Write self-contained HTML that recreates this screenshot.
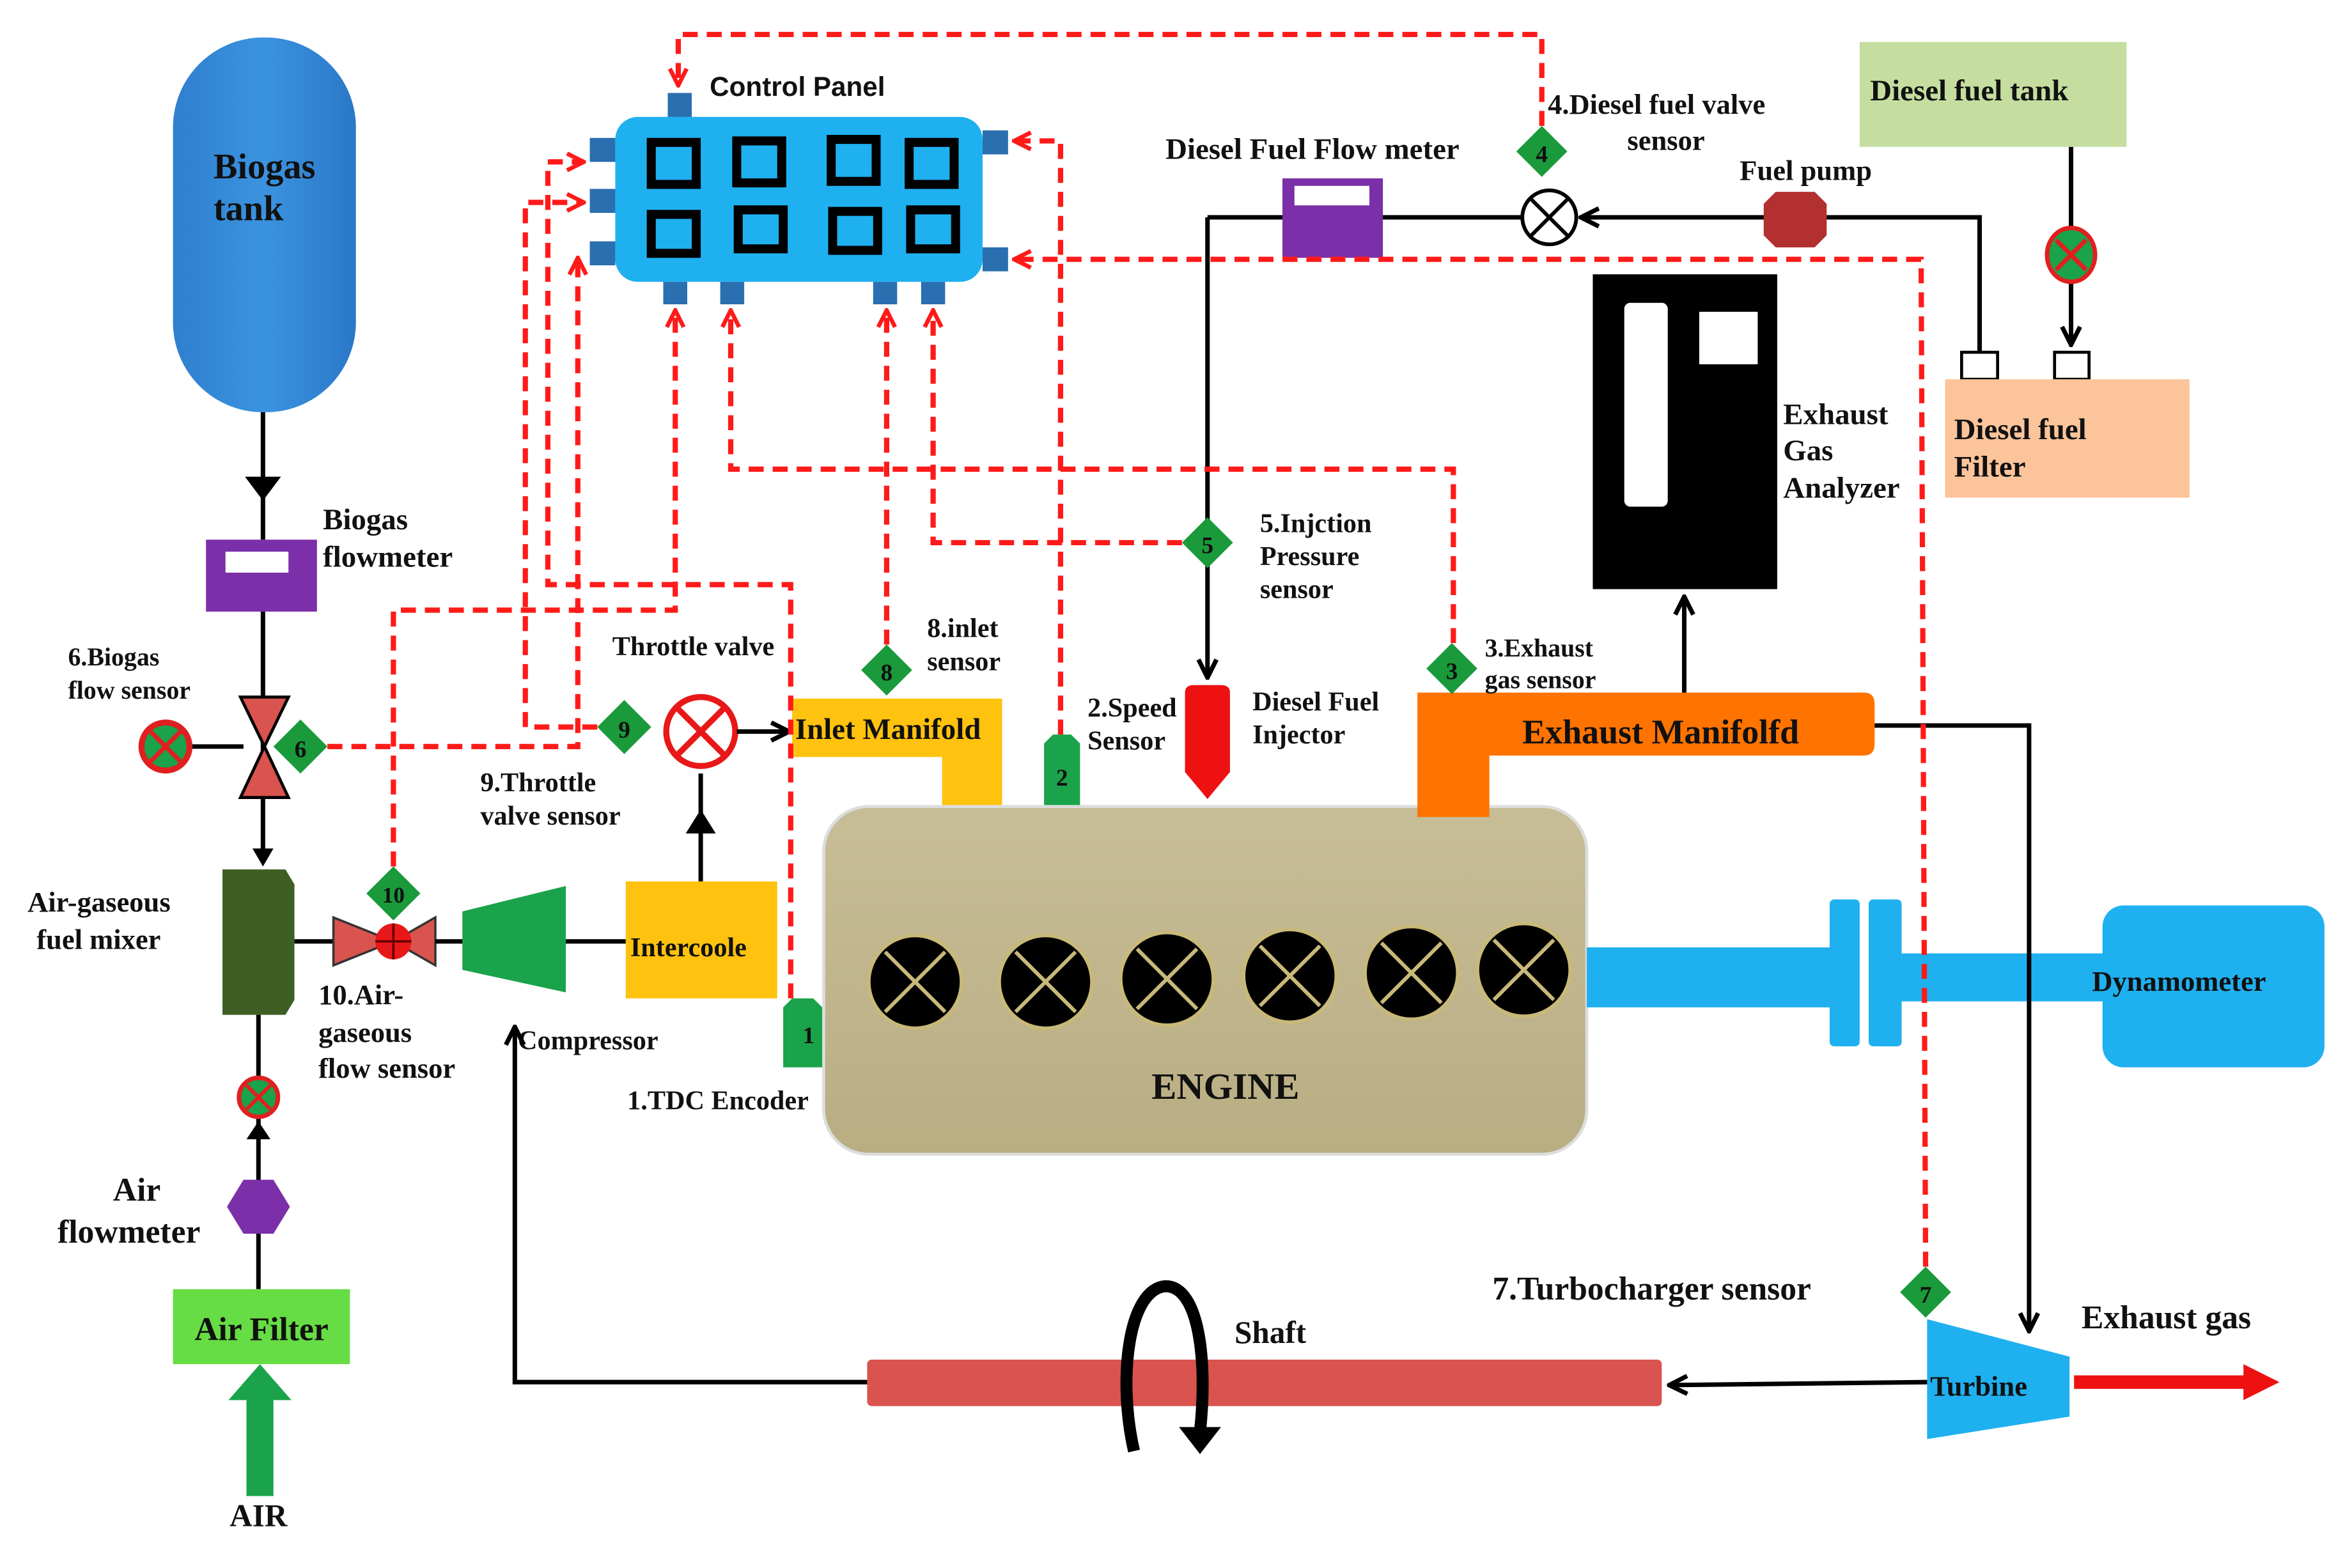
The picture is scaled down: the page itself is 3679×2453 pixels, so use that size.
<!DOCTYPE html>
<html><head><meta charset="utf-8"><style>
html,body{margin:0;padding:0;background:#fff}
svg{display:block}
text{font-family:"Liberation Serif",serif;font-weight:bold;fill:#111}
</style></head><body>
<svg width="3679" height="2453" viewBox="0 0 1568 1046" xmlns="http://www.w3.org/2000/svg">
<defs>
<linearGradient id="tank" x1="0" x2="1"><stop offset="0" stop-color="#2f7fcf"/><stop offset="0.5" stop-color="#3b93df"/><stop offset="1" stop-color="#2a78c8"/></linearGradient>
<linearGradient id="eng" x1="0" y1="0" x2="0" y2="1"><stop offset="0" stop-color="#c7bd97"/><stop offset="1" stop-color="#b9ad82"/></linearGradient>
<marker id="ra" viewBox="0 0 10 10" refX="9" refY="5" markerWidth="4" markerHeight="4" orient="auto" markerUnits="strokeWidth"><polyline points="1,1 9,5 1,9" fill="none" stroke="#ff1a1a" stroke-width="2"/></marker>
<marker id="ba" viewBox="0 0 10 10" refX="9" refY="5" markerWidth="5" markerHeight="5" orient="auto" markerUnits="strokeWidth"><polyline points="1,1 9,5 1,9" fill="none" stroke="#000" stroke-width="2"/></marker>
</defs>

<rect x="115" y="25" width="122" height="250" rx="60" fill="url(#tank)"/>
<text x="142" y="119" font-size="24" fill="#1a2a4a">Biogas</text>
<text x="142" y="147" font-size="24" fill="#1a2a4a">tank</text>
<line x1="175" y1="275" x2="175" y2="360" stroke="#000" stroke-width="3"/>
<polygon points="163,318 187,318 175,334" fill="#000"/>
<rect x="137" y="360" width="74" height="48" fill="#7b2fa8"/>
<rect x="150" y="368" width="42" height="14" fill="#fff"/>
<text x="215" y="353" font-size="20">Biogas</text>
<text x="215" y="378" font-size="20">flowmeter</text>
<line x1="175" y1="408" x2="175" y2="575" stroke="#000" stroke-width="3"/>
<polygon points="168,566 182,566 175,578" fill="#000"/>
<polygon points="160,465 192,465 176,498" fill="#d9534f" stroke="#000" stroke-width="2"/>
<polygon points="160,532 192,532 176,498" fill="#d9534f" stroke="#000" stroke-width="2"/>
<line x1="127" y1="498" x2="162" y2="498" stroke="#000" stroke-width="3"/>
<circle cx="110" cy="498" r="16" fill="#1aa34a" stroke="#e02020" stroke-width="4"/>
<path d="M100 488 L120 508 M120 488 L100 508" stroke="#e02020" stroke-width="3"/>
<polygon points="200,480 218,498 200,516 182,498" fill="#1a9a3a"/>
<text x="200" y="505" font-size="16" text-anchor="middle">6</text>
<text x="45" y="444" font-size="17">6.Biogas</text>
<text x="45" y="466" font-size="17">flow sensor</text>

<path d="M148 580 H190 L196 590 V667 L190 677 H148 Z" fill="#3e5f24"/>
<text x="18" y="608" font-size="19">Air-gaseous</text>
<text x="24" y="633" font-size="19">fuel mixer</text>
<line x1="196" y1="628" x2="222" y2="628" stroke="#000" stroke-width="3"/>
<polygon points="222,612 222,644 262,628" fill="#d9534f" stroke="#333" stroke-width="1.5"/>
<polygon points="290,612 290,644 262,628" fill="#d9534f" stroke="#333" stroke-width="1.5"/>
<circle cx="262" cy="628" r="12" fill="#e81818"/>
<path d="M250 628 H274 M262 616 V640" stroke="#600" stroke-width="1.5"/>
<polygon points="262,578 280,596 262,614 244,596" fill="#1a9a3a"/>
<text x="262" y="602" font-size="15" text-anchor="middle">10</text>
<text x="212" y="670" font-size="19">10.Air-</text>
<text x="212" y="695" font-size="19">gaseous</text>
<text x="212" y="719" font-size="19">flow sensor</text>
<line x1="290" y1="628" x2="310" y2="628" stroke="#000" stroke-width="3"/>
<polygon points="308,608 377,591 377,662 308,647" fill="#1aa34a"/>
<text x="345" y="700" font-size="18">Compressor</text>
<line x1="377" y1="628" x2="417" y2="628" stroke="#000" stroke-width="3"/>
<rect x="417" y="588" width="101" height="78" fill="#ffc20e"/>
<text x="420" y="638" font-size="18">Intercoole</text>
<line x1="467" y1="588" x2="467" y2="516" stroke="#000" stroke-width="3"/>
<polygon points="457,556 477,556 467,540" fill="#000"/>
<circle cx="467" cy="488" r="23" fill="#fff" stroke="#e81818" stroke-width="4"/>
<path d="M451 472 L483 504 M483 472 L451 504" stroke="#e81818" stroke-width="4"/>
<line x1="491" y1="488" x2="526" y2="488" stroke="#000" stroke-width="3" marker-end="url(#ba)"/>
<polygon points="416,467 434,485 416,503 398,485" fill="#1a9a3a"/>
<text x="416" y="492" font-size="16" text-anchor="middle">9</text>
<text x="408" y="437" font-size="18">Throttle valve</text>
<text x="320" y="528" font-size="18">9.Throttle</text>
<text x="320" y="550" font-size="18">valve sensor</text>

<path d="M528 466 H668 V545 H628 V505 H528 Z" fill="#ffc20e"/>
<text x="530" y="493" font-size="20">Inlet Manifold</text>
<polygon points="591,430 608,447 591,464 574,447" fill="#1a9a3a"/>
<text x="591" y="454" font-size="16" text-anchor="middle">8</text>
<text x="618" y="425" font-size="18">8.inlet</text>
<text x="618" y="447" font-size="18">sensor</text>
<path d="M696 496 L702 490 H714 L720 496 V538 H696 Z" fill="#1aa34a"/>
<text x="708" y="524" font-size="16" text-anchor="middle">2</text>
<text x="725" y="478" font-size="18">2.Speed</text>
<text x="725" y="500" font-size="18">Sensor</text>

<rect x="549" y="538" width="509" height="232" rx="30" fill="url(#eng)" stroke="#ddd" stroke-width="2"/>
<g stroke="#c8b97a" stroke-width="2.5">
<circle cx="610" cy="655" r="31" fill="#000"/><path d="M590 635 L630 675 M630 635 L590 675"/>
<circle cx="697" cy="655" r="31" fill="#000"/><path d="M677 635 L717 675 M717 635 L677 675"/>
<circle cx="778" cy="653" r="31" fill="#000"/><path d="M758 633 L798 673 M798 633 L758 673"/>
<circle cx="860" cy="651" r="31" fill="#000"/><path d="M840 631 L880 671 M880 631 L840 671"/>
<circle cx="941" cy="649" r="31" fill="#000"/><path d="M921 629 L961 669 M961 629 L921 669"/>
<circle cx="1016" cy="647" r="31" fill="#000"/><path d="M996 627 L1036 667 M1036 627 L996 667"/>
</g>
<text x="817" y="733" font-size="25" text-anchor="middle">ENGINE</text>
<path d="M522 672 L528 666 H542 L548 672 V712 H522 Z" fill="#1aa34a"/>
<text x="539" y="696" font-size="16" text-anchor="middle">1</text>
<text x="418" y="740" font-size="18">1.TDC Encoder</text>

<rect x="1058" y="632" width="170" height="40" fill="#1fb0f0"/>
<rect x="1220" y="600" width="20" height="98" rx="3" fill="#1fb0f0"/>
<rect x="1246" y="600" width="22" height="98" rx="3" fill="#1fb0f0"/>
<rect x="1268" y="636" width="140" height="32" fill="#1fb0f0"/>
<rect x="1402" y="604" width="148" height="108" rx="14" fill="#1fb0f0"/>
<text x="1395" y="661" font-size="19">Dynamometer</text>

<line x1="805" y1="145" x2="805" y2="452" stroke="#000" stroke-width="3" marker-end="url(#ba)"/>
<path d="M790 462 Q790 457 796 457 H814 Q820 457 820 462 V515 L805 533 L790 515 Z" fill="#ee1111"/>
<polygon points="805,345 822,362 805,379 788,362" fill="#1a9a3a"/>
<text x="805" y="369" font-size="16" text-anchor="middle">5</text>
<text x="840" y="355" font-size="18">5.Injction</text>
<text x="840" y="377" font-size="18">Pressure</text>
<text x="840" y="399" font-size="18">sensor</text>
<text x="835" y="474" font-size="18">Diesel Fuel</text>
<text x="835" y="496" font-size="18">Injector</text>
<line x1="805" y1="145" x2="1015" y2="145" stroke="#000" stroke-width="3"/>
<rect x="855" y="119" width="67" height="53" fill="#7b2fa8"/>
<rect x="863" y="124" width="50" height="13" fill="#fff"/>
<text x="777" y="106" font-size="20">Diesel Fuel Flow meter</text>
<circle cx="1033" cy="145" r="18" fill="#fff" stroke="#000" stroke-width="2.5"/>
<path d="M1020 132 L1046 158 M1046 132 L1020 158" stroke="#000" stroke-width="2.5"/>
<line x1="1178" y1="145" x2="1054" y2="145" stroke="#000" stroke-width="3" marker-end="url(#ba)"/>
<polygon points="1184,128 1210,128 1218,136 1218,157 1210,165 1184,165 1176,157 1176,136" fill="#b23030"/>
<text x="1160" y="120" font-size="19">Fuel pump</text>
<polyline points="1218,145 1320,145 1320,235" fill="none" stroke="#000" stroke-width="3"/>
<rect x="1308" y="235" width="24" height="18" fill="#fff" stroke="#000" stroke-width="2"/>
<rect x="1240" y="28" width="178" height="70" fill="#c5dea0"/>
<text x="1247" y="67" font-size="20">Diesel  fuel tank</text>
<line x1="1381" y1="98" x2="1381" y2="230" stroke="#000" stroke-width="3" marker-end="url(#ba)"/>
<ellipse cx="1381" cy="170" rx="16" ry="18" fill="#1aa34a" stroke="#e02020" stroke-width="3"/>
<path d="M1371 160 L1391 180 M1391 160 L1371 180" stroke="#e02020" stroke-width="3"/>
<rect x="1370" y="235" width="23" height="18" fill="#fff" stroke="#000" stroke-width="2"/>
<rect x="1297" y="253" width="163" height="79" fill="#fbc49a"/>
<text x="1303" y="293" font-size="20">Diesel  fuel</text>
<text x="1303" y="318" font-size="20">Filter</text>
<polygon points="1028,84 1045,101 1028,118 1011,101" fill="#1a9a3a"/>
<text x="1028" y="108" font-size="16" text-anchor="middle">4</text>
<text x="1032" y="76" font-size="19">4.Diesel fuel valve</text>
<text x="1085" y="100" font-size="19">sensor</text>

<rect x="1062" y="183" width="123" height="210" fill="#000"/>
<rect x="1083" y="202" width="29" height="136" rx="4" fill="#fff"/>
<rect x="1133" y="208" width="39" height="35" fill="#fff"/>
<text x="1189" y="283" font-size="20">Exhaust</text>
<text x="1189" y="307" font-size="20">Gas</text>
<text x="1189" y="332" font-size="20">Analyzer</text>
<line x1="1123" y1="462" x2="1123" y2="398" stroke="#000" stroke-width="3" marker-end="url(#ba)"/>

<path d="M945 462 H1243 Q1250 462 1250 470 V496 Q1250 504 1243 504 H993 V545 H945 Z" fill="#ff7300"/>
<text x="1015" y="496" font-size="23">Exhaust Manifolfd</text>
<polygon points="968,429 985,446 968,463 951,446" fill="#1a9a3a"/>
<text x="968" y="453" font-size="16" text-anchor="middle">3</text>
<text x="990" y="438" font-size="17">3.Exhaust</text>
<text x="990" y="459" font-size="17">gas sensor</text>
<polyline points="1250,484 1353,484 1353,888" fill="none" stroke="#000" stroke-width="3" marker-end="url(#ba)"/>

<polygon points="1285,880 1380,905 1380,945 1285,960" fill="#1fb0f0"/>
<text x="1287" y="931" font-size="19">Turbine</text>
<polygon points="1284,845 1301,862 1284,879 1267,862" fill="#1a9a3a"/>
<text x="1284" y="869" font-size="16" text-anchor="middle">7</text>
<text x="995" y="867" font-size="22">7.Turbocharger sensor</text>
<line x1="1383" y1="922" x2="1500" y2="922" stroke="#ee1111" stroke-width="9"/>
<polygon points="1496,910 1520,922 1496,934" fill="#ee1111"/>
<text x="1388" y="886" font-size="22">Exhaust gas</text>

<rect x="578" y="907" width="530" height="31" rx="3" fill="#d9534f"/>
<line x1="1285" y1="922" x2="1113" y2="924" stroke="#000" stroke-width="3" marker-end="url(#ba)"/>
<polyline points="578,922 343,922 343,685" fill="none" stroke="#000" stroke-width="3" marker-end="url(#ba)"/>
<path d="M756 968 C745 920 752 860 777 858 C800 858 805 910 800 955" fill="none" stroke="#000" stroke-width="8"/>
<polygon points="786,952 814,952 800,970" fill="#000"/>
<text x="823" y="896" font-size="21">Shaft</text>

<line x1="172" y1="860" x2="172" y2="745" stroke="#000" stroke-width="3"/>
<line x1="172" y1="720" x2="172" y2="677" stroke="#000" stroke-width="3"/>
<polygon points="164,760 180,760 172,748" fill="#000"/>
<circle cx="172" cy="732" r="13" fill="#1aa34a" stroke="#e02020" stroke-width="3"/>
<path d="M164 724 L180 740 M180 724 L164 740" stroke="#e02020" stroke-width="2.5"/>
<polygon points="162,787 182,787 193,805 182,823 162,823 151,805" fill="#7b2fa8"/>
<text x="75" y="801" font-size="22">Air</text>
<text x="38" y="829" font-size="22">flowmeter</text>
<rect x="115" y="860" width="118" height="50" fill="#66dd44"/>
<text x="174" y="894" font-size="22" text-anchor="middle">Air Filter</text>
<rect x="164" y="932" width="18" height="66" fill="#1aa34a"/>
<polygon points="152,934 194,934 173,910" fill="#1aa34a"/>
<text x="172" y="1018" font-size="21" text-anchor="middle">AIR</text>

<rect x="410" y="78" width="245" height="110" rx="15" fill="#1fb0f0"/>
<g fill="none" stroke="#000" stroke-width="6">
<rect x="434" y="95" width="30" height="28"/><rect x="491" y="94" width="30" height="28"/><rect x="554" y="93" width="30" height="28"/><rect x="606" y="95" width="30" height="28"/>
<rect x="434" y="143" width="30" height="26"/><rect x="492" y="140" width="30" height="26"/><rect x="555" y="141" width="30" height="26"/><rect x="607" y="140" width="30" height="26"/>
</g>
<g fill="#2a6fb0">
<rect x="445" y="62" width="16" height="16"/>
<rect x="393" y="92" width="17" height="16"/><rect x="393" y="126" width="17" height="16"/><rect x="393" y="161" width="17" height="16"/>
<rect x="655" y="87" width="17" height="16"/><rect x="655" y="165" width="17" height="16"/>
<rect x="442" y="188" width="16" height="15"/><rect x="480" y="188" width="16" height="15"/><rect x="582" y="188" width="16" height="15"/><rect x="614" y="188" width="16" height="15"/>
</g>
<text x="473" y="64" font-size="18" style="font-family:'Liberation Sans',sans-serif">Control Panel</text>

<g fill="none" stroke="#ff1a1a" stroke-width="3.5" stroke-dasharray="10,6">
<polyline points="1028,84 1028,23 452,23 452,57" marker-end="url(#ra)"/>
<polyline points="218,498 385,498 385,172" marker-end="url(#ra)"/>
<polyline points="262,578 262,407 450,407 450,207" marker-end="url(#ra)"/>
<polyline points="398,485 350,485 350,135 389,135" marker-end="url(#ra)"/>
<polyline points="527,666 527,390 365,390 365,108 389,108" marker-end="url(#ra)"/>
<polyline points="969,429 969,313 487,313 487,207" marker-end="url(#ra)"/>
<polyline points="591,430 591,207" marker-end="url(#ra)"/>
<polyline points="788,362 622,362 622,207" marker-end="url(#ra)"/>
<polyline points="707,490 707,94 676,94" marker-end="url(#ra)"/>
<polyline points="1284,845 1281,173 676,173" marker-end="url(#ra)"/>
</g>
</svg>
</body></html>
